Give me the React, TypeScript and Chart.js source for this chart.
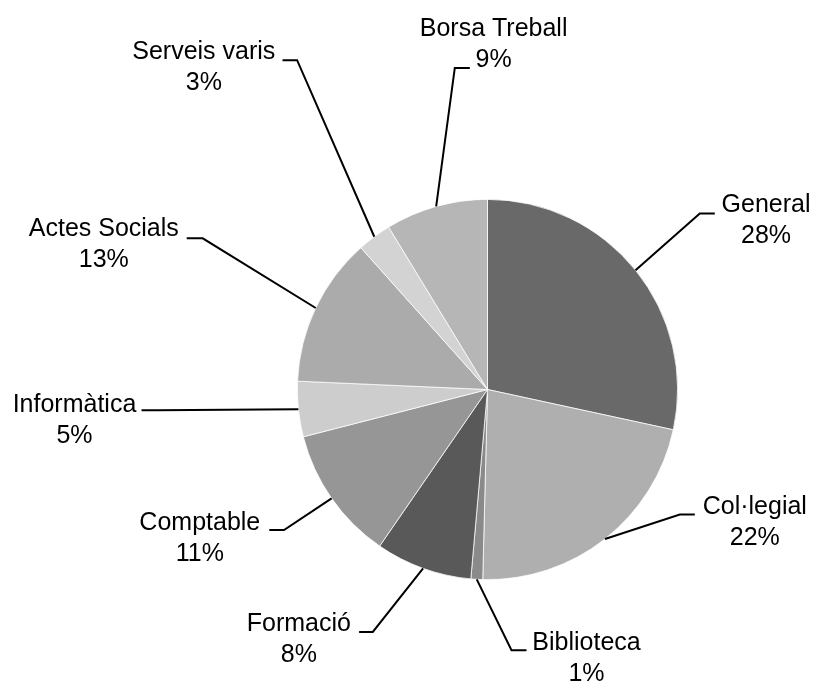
import React, { useEffect, useRef } from "react";
import { Chart, registerables } from "chart.js";

Chart.register(...registerables);

const categories = [
  "General",
  "Col·legial",
  "Biblioteca",
  "Formació",
  "Comptable",
  "Informàtica",
  "Actes Socials",
  "Serveis varis",
  "Borsa Treball",
];
const values = [28.4, 22.0, 1.0, 8.2, 11.4, 4.7, 12.7, 2.9, 8.7];
const sliceColors = [
  "#696969",
  "#afafaf",
  "#8a8a8a",
  "#595959",
  "#969696",
  "#cdcdcd",
  "#ababab",
  "#d3d3d3",
  "#b6b6b6",
];

// Label layout relative to the pie centre (px): text centre x, first baseline y,
// leader horizontal y, elbow x, attach x
const labelLayout = [
  { tx: 278.5, ty: -177.6, ly: -176, ex: 212.3, ax: 227.3 },
  { tx: 267.3, ty: 124.7, ly: 125, ex: 192.3, ax: 207.3 },
  { tx: 99, ty: 260.7, ly: 260.7, ex: 24, ax: 39 },
  { tx: -188.7, ty: 241.4, ly: 242.4, ex: -114.7, ax: -128.4 },
  { tx: -287.7, ty: 140, ly: 140.5, ex: -203.5, ax: -218.2 },
  { tx: -413, ty: 22.4, ly: 20.7, ex: -331, ax: -346 },
  { tx: -383.7, ty: -153.8, ly: -151.2, ex: -284.8, ax: -300.8 },
  { tx: -283.7, ty: -331, ly: -329.3, ex: -190.4, ax: -205 },
  { tx: 6.1, ty: -353.3, ly: -321.6, ex: -32.7, ax: -17.7 },
];

const outsideLabels = {
  id: "outsideLabels",
  afterDraw(chart: any) {
    const ctx = chart.ctx;
    const meta = chart.getDatasetMeta(0);
    const data = chart.data.datasets[0].data as number[];
    const total = data.reduce((a, b) => a + b, 0);
    ctx.save();
    meta.data.forEach((arc: any, i: number) => {
      const { x, y, startAngle, endAngle, outerRadius } = arc.getProps(
        ["x", "y", "startAngle", "endAngle", "outerRadius"],
        true
      );
      const mid = (startAngle + endAngle) / 2;
      const sx = x + Math.cos(mid) * outerRadius;
      const sy = y + Math.sin(mid) * outerRadius;
      const L = labelLayout[i];
      ctx.beginPath();
      ctx.strokeStyle = "#000";
      ctx.lineWidth = 2;
      ctx.moveTo(sx, sy);
      ctx.lineTo(x + L.ex, y + L.ly);
      ctx.lineTo(x + L.ax, y + L.ly);
      ctx.stroke();

      ctx.fillStyle = "#000";
      ctx.font = '25px "Liberation Sans", Arial, sans-serif';
      ctx.textAlign = "center";
      ctx.textBaseline = "alphabetic";
      const pct = Math.round((data[i] / total) * 100) + "%";
      ctx.fillText(chart.data.labels[i], x + L.tx, y + L.ty);
      ctx.fillText(pct, x + L.tx, y + L.ty + 31);
    });
    ctx.restore();
  },
};

export default function App() {
  const ref = useRef<HTMLCanvasElement | null>(null);
  useEffect(() => {
    if (!ref.current) return;
    const chart = new Chart(ref.current, {
      type: "pie",
      data: {
        labels: categories,
        datasets: [
          {
            data: values,
            backgroundColor: sliceColors,
            borderColor: "#ffffff",
            borderWidth: 0.75,
          },
        ],
      },
      options: {
        responsive: false,
        maintainAspectRatio: false,
        animation: false,
        devicePixelRatio: 1,
        layout: { padding: { left: 297, right: 135, top: 199, bottom: 104 } },
        plugins: {
          legend: { display: false },
          tooltip: { enabled: false },
        },
      },
      plugins: [outsideLabels],
    });
    return () => chart.destroy();
  }, []);
  return (
    <div style={{ position: "absolute", left: 0, top: 0, width: 813, height: 684, background: "#fff" }}>
      <canvas ref={ref} width={813} height={684} />
    </div>
  );
}
